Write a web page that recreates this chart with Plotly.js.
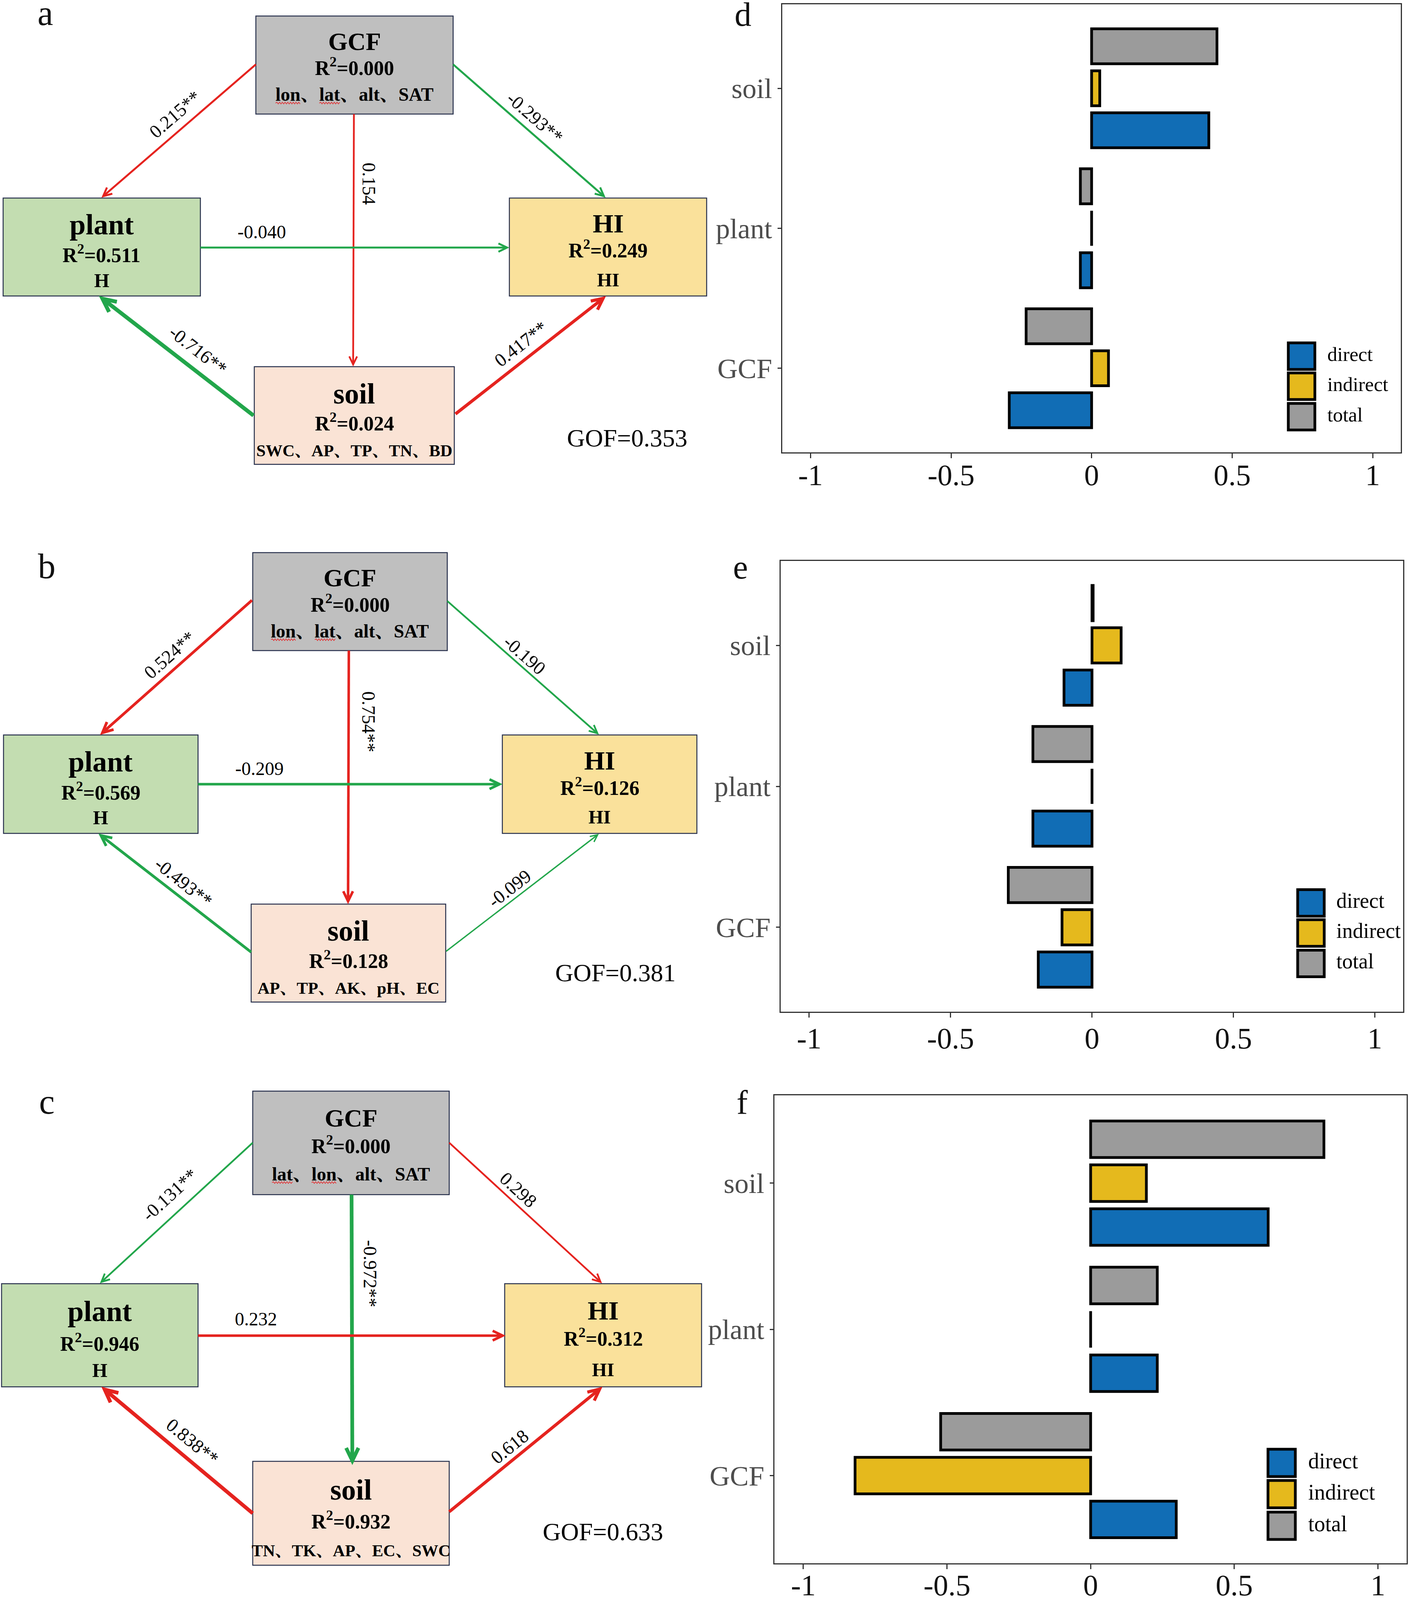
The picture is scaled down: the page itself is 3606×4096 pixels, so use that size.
<!DOCTYPE html>
<html><head><meta charset="utf-8">
<script src="https://cdn.plot.ly/plotly-3.0.1.min.js"></script>
<style>html,body{margin:0;padding:0;background:#fff;overflow:hidden}#chart{width:3606px;height:4096px}</style>
</head><body><div id="chart"></div>
<script>
// ================= DATA =================
const factors = ['GCF', 'plant', 'soil'];
const effectTypes = ['direct', 'indirect', 'total'];
// panel d (effects on HI, model a)
const dDirect   = [-0.293, -0.040, 0.417];
const dIndirect = [ 0.060,  0.000, 0.029];
const dTotal    = [-0.233, -0.040, 0.446];
// panel e (model b)
const eDirect   = [-0.190, -0.209, -0.099];
const eIndirect = [-0.106,  0.000,  0.103];
const eTotal    = [-0.296, -0.209,  0.004];
// panel f (model c)
const fDirect   = [ 0.298, 0.232, 0.618];
const fIndirect = [-0.820, 0.000, 0.194];
const fTotal    = [-0.522, 0.232, 0.812];
const xTickVals = [-1, -0.5, 0, 0.5, 1];
const xTickText = ['-1', '-0.5', '0', '0.5', '1'];

// path diagrams: order GCF→plant, GCF→HI, GCF→soil, plant→HI, soil→plant, soil→HI
const nodeNames = ['GCF', 'plant', 'HI', 'soil'];
const coefA = [0.215, -0.293, 0.154, -0.040, -0.716, 0.417];
const sigA  = ['**', '**', '', '', '**', '**'];
const r2A   = [0.000, 0.511, 0.249, 0.024];
const varsA = ['lon、lat、alt、SAT', 'H', 'HI', 'SWC、AP、TP、TN、BD'];
const gofA  = 0.353;

const coefB = [0.524, -0.190, 0.754, -0.209, -0.493, -0.099];
const sigB  = ['**', '', '**', '', '**', ''];
const r2B   = [0.000, 0.569, 0.126, 0.128];
const varsB = ['lon、lat、alt、SAT', 'H', 'HI', 'AP、TP、AK、pH、EC'];
const gofB  = 0.381;

const coefC = [-0.131, 0.298, -0.972, 0.232, 0.838, 0.618];
const sigC  = ['**', '', '**', '', '**', ''];
const r2C   = [0.000, 0.946, 0.312, 0.932];
const varsC = ['lat、lon、alt、SAT', 'H', 'HI', 'TN、TK、AP、EC、SWC'];
const gofC  = 0.633;

// words carrying the red spell-check squiggle in the figure
const squiggleWords = ['lon', 'lat'];

// ================= STYLE / LAYOUT =================
const RW = 3607, RH = 4097;              // reference pixel space
const px = x => x / RW;
const py = y => 1 - y / RH;
const SERIF = '"Times New Roman", "Liberation Serif", "Noto Serif CJK SC", "Noto Sans CJK SC", serif';
const barColors = ['#116db5', '#e5b91d', '#9b9b9b'];
const nodeFill = {GCF: '#bfbfbf', plant: '#c3ddb1', HI: '#fae19b', soil: '#fae3d5'};
const nodeLineFrac = {GCF: [0.26, 0.518, 0.80], plant: [0.27, 0.57, 0.84], HI: [0.26, 0.522, 0.835], soil: [0.275, 0.566, 0.858]};
const nodeTitleSize = {GCF: 64, plant: 74, HI: 68, soil: 74};
const nodeVarSize = {GCF: 48, plant: 50, HI: 49, soil: 43};
const RED = '#e5231f', GREEN = '#22a64b';

const diagrams = [
  { coef: coefA, sig: sigA, r2: r2A, vars: varsA, gof: gofA, letter: 'a', letterPos: [116, 34],
    boxes: {GCF: [655, 41, 1160, 292], plant: [8, 507, 513, 758], HI: [1304, 507, 1809, 758], soil: [651, 939, 1163, 1189]},
    arrows: [[655, 165, 261, 505], [1160, 165, 1549, 505], [906, 292, 904, 937], [513, 634, 1302, 634], [649, 1064, 256, 760], [1166, 1060, 1549, 760]],
    widths: [5, 5, 4.5, 5, 10, 8],
    labels: [[448, 293, -41], [1369, 301, 41], [944, 470, 90], [670, 594, 0], [507, 897, 38], [1333, 881, -38]],
    gofPos: [1605, 1122] },
  { coef: coefB, sig: sigB, r2: r2B, vars: varsB, gof: gofB, letter: 'b', letterPos: [120, 1450],
    boxes: {GCF: [647, 1415, 1145, 1666], plant: [9, 1882, 507, 2134], HI: [1286, 1882, 1784, 2134], soil: [643, 2315, 1141, 2566]},
    arrows: [[645, 1537, 258, 1880], [1145, 1539, 1532, 1880], [893, 1666, 891, 2313], [507, 2008, 1284, 2008], [643, 2438, 254, 2136], [1142, 2436, 1532, 2136]],
    widths: [7, 4.5, 6.5, 6.5, 7, 3.5],
    labels: [[434, 1677, -41.5], [1343, 1677, 41], [944, 1848, 90], [664, 1968, 0], [470, 2259, 38.5], [1304, 2275, -38]],
    gofPos: [1575, 2491] },
  { coef: coefC, sig: sigC, r2: r2C, vars: varsC, gof: gofC, letter: 'c', letterPos: [120, 2821],
    boxes: {GCF: [647, 2794, 1150, 3059], plant: [4, 3287, 507, 3551], HI: [1292, 3287, 1796, 3551], soil: [647, 3742, 1150, 4008]},
    arrows: [[647, 2926, 257, 3285], [1150, 2926, 1540, 3285], [900, 3059, 902, 3748], [507, 3420, 1292, 3420], [647, 3875, 262, 3553], [1150, 3871, 1540, 3553]],
    widths: [4.5, 4.5, 9.5, 6.5, 9.5, 8],
    labels: [[434, 3059, -42.5], [1327, 3046, 42.5], [948, 3261, 90], [655, 3377, 0], [493, 3691, 39.5], [1304, 3704, -39]],
    gofPos: [1543, 3922] }
];

const barPanels = [
  { vals: [dDirect, dIndirect, dTotal], frame: [2003, 11, 3586, 1158], letter: 'd', letterPos: [1902, 37],
    standoff: -22, keyCx: 3332, keyCys: [912, 989, 1067], keyHalf: 34, keyTextX: 3396, keyFont: 51 },
  { vals: [eDirect, eIndirect, eTotal], frame: [1999, 1436, 3592, 2591], letter: 'e', letterPos: [1896, 1452],
    standoff: -13, keyCx: 3356, keyCys: [2312, 2389, 2467], keyHalf: 34, keyTextX: 3419, keyFont: 54 },
  { vals: [fDirect, fIndirect, fTotal], frame: [1983, 2805, 3601, 4003], letter: 'f', letterPos: [1900, 2823],
    standoff: -24, keyCx: 3281, keyCys: [3746, 3826, 3907], keyHalf: 35, keyTextX: 3347, keyFont: 56 }
];

// ================= BUILD =================
const traces = [];
const shapes = [];
const annotations = [];
const layout = {
  width: 3606, height: 4096, margin: {l: 0, r: 0, t: 0, b: 0, pad: 0},
  paper_bgcolor: '#ffffff', plot_bgcolor: '#ffffff',
  barmode: 'group', bargap: 0.1, bargroupgap: 0.167, showlegend: false,
  font: {family: SERIF, color: '#000'}
};

function ann(x, y, text, size, opts) {
  annotations.push(Object.assign({
    xref: 'paper', yref: 'paper', x: px(x), y: py(y), text: text, showarrow: false,
    xanchor: 'center', yanchor: 'middle', font: {family: SERIF, size: size, color: '#000'}
  }, opts || {}));
}

const ctx = document.createElement('canvas').getContext('2d');
function textW(s, size) { ctx.font = 'bold ' + size + 'px ' + SERIF; return ctx.measureText(s).width; }

barPanels.forEach((p, k) => {
  const sfx = k === 0 ? '' : String(k + 1);
  const xa = 'x' + sfx, ya = 'y' + sfx;
  const [fx0, fy0, fx1, fy1] = p.frame;
  effectTypes.forEach((t, i) => {
    traces.push({
      type: 'bar', orientation: 'h', name: t, y: factors,
      // a zero effect is still drawn as its outline (hairline at 0), as in the figure
      x: p.vals[i].map(v => v === 0 ? 1e-9 : v),
      xaxis: xa, yaxis: ya,
      marker: {color: barColors[i], line: {color: '#000', width: 7}},
      hoverinfo: 'skip', showlegend: false
    });
  });
  layout['xaxis' + sfx] = {
    domain: [px(fx0), px(fx1)], anchor: ya, range: [-1.1, 1.1],
    tickmode: 'array', tickvals: xTickVals, ticktext: xTickText,
    ticks: 'outside', ticklen: 12, tickwidth: 3, tickcolor: '#333',
    showline: true, mirror: true, linecolor: '#333', linewidth: 3,
    showgrid: false, zeroline: false, ticklabelstandoff: p.standoff,
    tickfont: {family: SERIF, size: 76, color: '#111'}, fixedrange: true
  };
  layout['yaxis' + sfx] = {
    domain: [py(fy1), py(fy0)], anchor: xa, type: 'category',
    categoryorder: 'array', categoryarray: factors, range: [-0.6, 2.6],
    ticks: 'outside', ticklen: 9, tickwidth: 3, tickcolor: '#333',
    showline: true, mirror: true, linecolor: '#333', linewidth: 3,
    showgrid: false, zeroline: false,
    tickfont: {family: SERIF, size: 72, color: '#4d4d4d'}, fixedrange: true
  };
  // legend keys
  effectTypes.forEach((t, i) => {
    const cy = p.keyCys[i], h = p.keyHalf;
    shapes.push({type: 'rect', xref: 'paper', yref: 'paper',
      x0: px(p.keyCx - h), x1: px(p.keyCx + h), y0: py(cy + h), y1: py(cy - h),
      fillcolor: barColors[i], line: {color: '#000', width: 7}});
    ann(p.keyTextX, cy - 5, t, p.keyFont, {xanchor: 'left'});
  });
  ann(p.letterPos[0], p.letterPos[1], p.letter, 86, {font: {family: SERIF, size: 86, color: '#111'}});
});

function arrow(a, w, color) {
  const [x0, y0, x1, y1] = a;
  const dx = x1 - x0, dy = y1 - y0, len = Math.hypot(dx, dy);
  const ux = dx / len, uy = dy / len, nx = -uy, ny = ux;
  const tx = x1 - ux * w * 0.8, ty = y1 - uy * w * 0.8;
  const L = 10 + 2.4 * w, Hh = 0.48 * L;
  const w1x = tx - ux * L + nx * Hh, w1y = ty - uy * L + ny * Hh;
  const w2x = tx - ux * L - nx * Hh, w2y = ty - uy * L - ny * Hh;
  shapes.push({type: 'line', xref: 'paper', yref: 'paper',
    x0: px(x0), y0: py(y0), x1: px(tx - ux * w * 0.3), y1: py(ty - uy * w * 0.3),
    line: {color: color, width: w}});
  shapes.push({type: 'path', xref: 'paper', yref: 'paper',
    path: 'M' + px(w1x) + ',' + py(w1y) + 'L' + px(tx) + ',' + py(ty) + 'L' + px(w2x) + ',' + py(w2y),
    line: {color: color, width: w}, fillcolor: 'rgba(0,0,0,0)'});
}

function squiggle(x0, x1, y) {
  let p = 'M' + px(x0) + ',' + py(y);
  let up = true;
  for (let x = x0 + 3.5; x <= x1; x += 3.5) { p += 'L' + px(x) + ',' + py(y + (up ? -2.2 : 2.2)); up = !up; }
  shapes.push({type: 'path', xref: 'paper', yref: 'paper', path: p,
    line: {color: '#e0393b', width: 1.8}, fillcolor: 'rgba(0,0,0,0)'});
}

diagrams.forEach(d => {
  nodeNames.forEach((n, i) => {
    const [x0, y0, x1, y1] = d.boxes[n];
    shapes.push({type: 'rect', xref: 'paper', yref: 'paper',
      x0: px(x0), x1: px(x1), y0: py(y1), y1: py(y0),
      fillcolor: nodeFill[n], line: {color: '#28314d', width: 2.5}});
  });
  d.arrows.forEach((a, i) => arrow(a, d.widths[i], d.coef[i] >= 0 ? RED : GREEN));
  nodeNames.forEach((n, i) => {
    const [x0, y0, x1, y1] = d.boxes[n];
    const cx = (x0 + x1) / 2, hgt = y1 - y0, f = nodeLineFrac[n];
    ann(cx, y0 + hgt * f[0], '<b>' + n + '</b>', nodeTitleSize[n]);
    ann(cx, y0 + hgt * f[1], '<b>R<sup>2</sup>=' + d.r2[i].toFixed(3) + '</b>', 52);
    const vy = y0 + hgt * f[2], vs = nodeVarSize[n], s = d.vars[i];
    ann(cx, vy, '<b>' + s + '</b>', vs);
    if (n === 'GCF') {
      const left = cx - textW(s, vs) / 2;
      squiggleWords.forEach(wd => {
        const idx = s.indexOf(wd);
        if (idx < 0) return;
        const sx = left + textW(s.substring(0, idx), vs);
        squiggle(sx, sx + textW(wd, vs), vy + 0.3375 * vs + 6);
      });
    }
  });
  d.labels.forEach((l, i) => {
    ann(l[0], l[1], d.coef[i].toFixed(3) + d.sig[i], 48, {textangle: l[2]});
  });
  ann(d.gofPos[0], d.gofPos[1], 'GOF=' + d.gof.toFixed(3), 64);
  ann(d.letterPos[0], d.letterPos[1], d.letter, 90, {font: {family: SERIF, size: 90, color: '#111'}});
});

layout.shapes = shapes;
layout.annotations = annotations;
Plotly.newPlot('chart', traces, layout, {displayModeBar: false, staticPlot: true});
</script></body></html>
